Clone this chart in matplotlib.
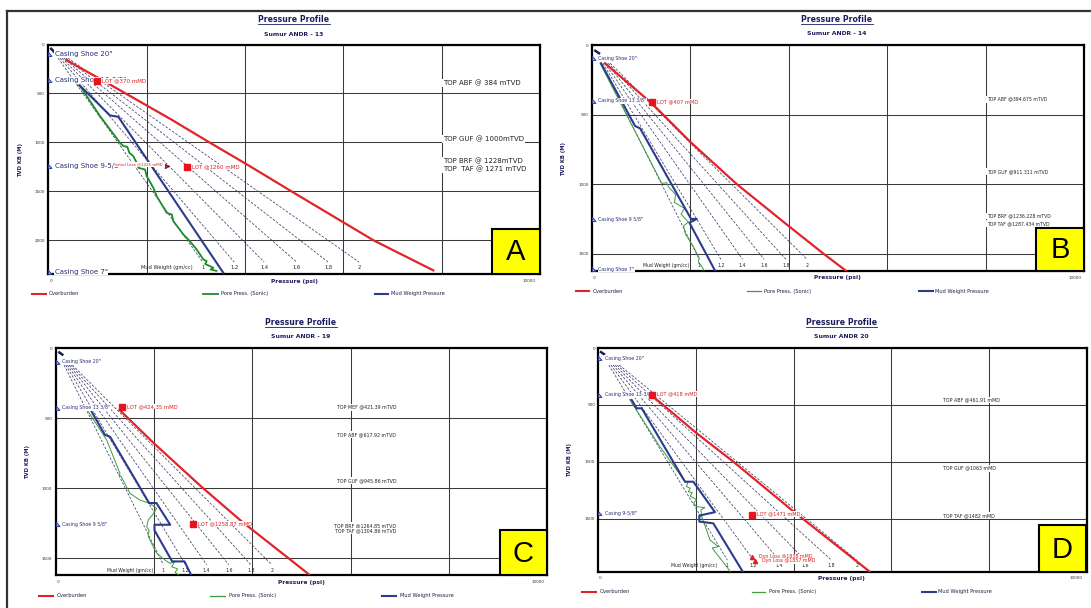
import matplotlib
matplotlib.use("Agg")
import matplotlib.pyplot as plt
from matplotlib.patches import Rectangle
from matplotlib.lines import Line2D

plt.rcParams['font.family'] = ['DejaVu Sans']

# ---------------- shared ----------------
mw_labels = ['1', '1.2', '1.4', '1.6', '1.8', '2']
grid_psi = [2000, 4000, 6000, 8000]
legend_names = ['Overburden', 'Pore Press. (Sonic)', 'Mud Weight Pressure']

# ---------------- Panel A : Sumur ANDR - 13 ----------------
a_ob_psi = [370, 1190, 2500, 3280, 4100, 4950, 6620, 7830]
a_ob_depth = [160, 390, 765, 1000, 1242, 1500, 2000, 2305]
a_pp_psi = [600, 640, 1052, 1459, 1526, 1607, 1648, 1729, 1790, 1831, 1967, 2002, 2137,
            2205, 2409, 2511, 2543, 2747, 2848, 3019, 3154, 3222, 3190, 3290, 3357, 3300, 3420]
a_pp_depth = [418, 418, 731, 1003, 1037, 1044, 1105, 1139, 1200, 1258, 1276, 1344, 1463,
              1548, 1718, 1735, 1803, 1939, 1990, 2092, 2194, 2211, 2240, 2262, 2279, 2296, 2310]
a_mw_psi = [640, 1255, 1424, 3560]
a_mw_depth = [418, 724, 738, 2330]
a_dash_start_psi = [200, 240, 280, 320, 360, 400]
a_dash_end_psi = [3140, 3780, 4390, 5050, 5690, 6320]
a_dash_depth = [140, 2220]
a_casing_depth = [92, 364, 1242, 2320]
a_casing_labels = ['Casing Shoe 20"', 'Casing Shoe 13-3/8"', 'Casing Shoe 9-5/8"', 'Casing Shoe 7"']
a_lot_psi = [985, 2815]
a_lot_depth = [374, 1252]
a_lot_labels = ['LOT @370 mMD', 'LOT @1260 mMD']
a_loss_psi = [2409]
a_loss_depth = [1235]
a_loss_labels = ['Partial Loss @1225 mMD']
a_tops_labels = ['TOP ABF @ 384 mTVD', 'TOP GUF @ 1000mTVD', 'TOP BRF @ 1228mTVD', 'TOP  TAF @ 1271 mTVD']
a_tops_depth = [384, 1000, 1228, 1271]
a_top_seg_psi = [40, 140]
a_top_seg_depth = [35, 85]

# ---------------- Panel B : Sumur ANDR - 14 ----------------
b_ob_psi = [264, 1215, 1994, 2944, 3927, 4706, 5160]
b_ob_depth = [130, 418, 694, 1000, 1281, 1500, 1622]
b_pp_psi = [163, 1418, 1519, 1553, 1700, 1675, 1880, 1810, 1960, 1860, 1900, 2062, 2130,
            2180, 2160, 2230, 2280]
b_pp_depth = [130, 994, 989, 1018, 1075, 1130, 1174, 1215, 1272, 1300, 1360, 1450, 1497,
              1530, 1560, 1590, 1622]
b_mw_psi = [183, 875, 977, 2014, 2130, 1980, 2502]
b_mw_depth = [130, 581, 598, 1250, 1250, 1277, 1622]
b_dash_start_psi = [185, 222, 259, 296, 333, 370]
b_dash_end_psi = [2180, 2620, 3060, 3500, 3940, 4370]
b_dash_depth = [130, 1540]
b_casing_depth = [94, 401, 1253, 1612]
b_casing_labels = ['Casing Shoe 20"', 'Casing Shoe 13 3/8"', 'Casing Shoe 9 5/8"', 'Casing Shoe 7"']
b_lot_psi = [1215]
b_lot_depth = [411]
b_lot_labels = ['LOT @407 mMD']
b_tops_labels = ['TOP ABF @394.675 mTVD', 'TOP GUF @911.311 mTVD',
                 'TOP BRF @1236.228 mTVD', 'TOP TAF @1287.434 mTVD']
b_tops_depth = [394.675, 911.311, 1236.228, 1287.434]
b_top_seg_psi = [47, 163]
b_top_seg_depth = [35, 63]

# ---------------- Panel C : Sumur ANDR - 19 ----------------
c_ob_psi = [1300, 2000, 2970, 3790, 4740, 5150]
c_ob_depth = [440, 679, 990, 1238, 1500, 1614]
c_pp_psi = [664, 1037, 1308, 1290, 1330, 1512, 1715, 1918, 2055, 1990, 1884, 1851, 1900,
            1880, 1960, 2055, 2224, 2326, 2427, 2360, 2480, 2430, 2500]
c_pp_depth = [453, 655, 893, 905, 915, 1036, 1084, 1108, 1143, 1180, 1226, 1274, 1300,
              1340, 1400, 1464, 1512, 1536, 1520, 1560, 1575, 1600, 1618]
c_mw_psi = [732, 1003, 1105, 1900, 2050, 2330, 2010, 2010, 2370, 2620, 2760]
c_mw_depth = [453, 619, 631, 1105, 1105, 1260, 1260, 1300, 1522, 1522, 1621]
c_dash_start_psi = [171, 205, 239, 273, 307, 341]
c_dash_end_psi = [2190, 2640, 3070, 3520, 3970, 4395]
c_dash_depth = [120, 1545]
c_casing_depth = [96, 424, 1257]
c_casing_labels = ['Casing Shoe 20"', 'Casing Shoe 13 3/8"', 'Casing Shoe 9 5/8"']
c_lot_psi = [1343, 2787]
c_lot_depth = [421, 1257]
c_lot_labels = ['LOT @424.35 mMD', 'LOT @1258.87 mMD']
c_tops_labels = ['TOP MEF @421.39 mTVD', 'TOP ABF @617.92 mTVD', 'TOP GUF @945.86 mTVD',
                 'TOP BRF @1264.85 mTVD', 'TOP TAF @1304.86 mTVD']
c_tops_depth = [421.39, 617.92, 945.86, 1264.85, 1304.86]
c_top_seg_psi = [53, 155]
c_top_seg_depth = [24, 50]

# ---------------- Panel D : Sumur ANDR 20 ----------------
d_ob_psi = [1123, 1998, 2762, 3959, 5551]
d_ob_depth = [427, 743, 997, 1421, 1960]
d_pp_psi = [646, 1260, 1773, 1830, 1800, 1880, 1840, 1920, 1880, 2010, 1950, 2012, 2182,
            2100, 2110, 2285, 2455, 2330, 2627, 2700]
d_pp_depth = [456, 866, 1173, 1185, 1215, 1230, 1260, 1270, 1300, 1330, 1360, 1392, 1400,
              1420, 1470, 1684, 1743, 1755, 1918, 1962]
d_mw_psi = [680, 783, 885, 1773, 1943, 2387, 2066, 2066, 2353, 2960]
d_mw_depth = [456, 529, 529, 1173, 1173, 1440, 1470, 1523, 1538, 1965]
d_dash_start_psi = [213, 256, 299, 341, 384, 427]
d_dash_end_psi = [2640, 3175, 3700, 4230, 4770, 5290]
d_dash_depth = [150, 1860]
d_casing_depth = [90, 412, 1450]
d_casing_labels = ['Casing Shoe 20"', 'Casing Shoe 13-3/8"', 'Casing 9-5/8"']
d_lot_psi = [1090, 3152]
d_lot_depth = [412, 1465]
d_lot_labels = ['LOT @418 mMD', 'LOT @1471 mMD']
d_loss_psi = [3139, 3207]
d_loss_depth = [1831, 1868]
d_loss_labels = ['Dyn Loss @1838 mMD', 'Dyn Loss @1857 mMD']
d_tops_labels = ['TOP ABF @461.91 mMD', 'TOP GUF @1063 mMD', 'TOP TAF @1482 mMD']
d_tops_depth = [461.91, 1063, 1482]
d_top_seg_psi = [31, 133]
d_top_seg_depth = [30, 60]

# ---------------- styling ----------------
W, H, DPI = 1091, 608, 100
RED = '#e3232a'
BLUE = '#2c3b8e'
NAVY = '#1d1d5e'
DASH = '#3b3d66'
GRID = '#3a3a3a'

panels = [
    dict(letter='A', sub='Sumur ANDR - 13', box=(48.3, 44.5, 540, 274.3), ymax=2345,
         yticks=[0, 500, 1000, 1500, 2000],
         ob=(a_ob_psi, a_ob_depth), pp=(a_pp_psi, a_pp_depth), mw=(a_mw_psi, a_mw_depth),
         dash=(a_dash_start_psi, a_dash_end_psi, a_dash_depth),
         casing=(a_casing_depth, a_casing_labels), lot=(a_lot_psi, a_lot_depth, a_lot_labels),
         loss=(a_loss_psi, a_loss_depth, a_loss_labels, 'left'),
         tops=(a_tops_labels, [390, 962, 1185, 1271], 8000, 'left'),
         seg=(a_top_seg_psi, a_top_seg_depth),
         fs=dict(casing=5.0, lot=4.0, tops=5.0, mw=3.7), pp_lw=1.3, pp_col='#1e8a2c',
         cx=294, ty=19.5, sy=34.5, xl_y=281, x0=51, x1=529, leg_y=293.5,
         leg=[(31.6, 45.6, 49), (203, 217.5, 221), (374.6, 387.6, 391)], yl=(21, 160),
         ybox=(492, 228.7, 540, 274.3)),
    dict(letter='B', sub='Sumur ANDR - 14', box=(592, 45.2, 1084, 270.7), ymax=1622,
         yticks=[0, 500, 1000, 1500],
         ob=(b_ob_psi, b_ob_depth), pp=(b_pp_psi, b_pp_depth), mw=(b_mw_psi, b_mw_depth),
         dash=(b_dash_start_psi, b_dash_end_psi, b_dash_depth),
         casing=(b_casing_depth, b_casing_labels), lot=(b_lot_psi, b_lot_depth, b_lot_labels),
         loss=None,
         tops=(b_tops_labels, [389, 910, 1229, 1284], 8000, 'left'),
         seg=(b_top_seg_psi, b_top_seg_depth),
         fs=dict(casing=3.4, lot=3.7, tops=3.3, mw=3.3), pp_lw=0.7, pp_col='#3b9c3b',
         cx=837, ty=19.3, sy=33.7, xl_y=277.7, x0=594, x1=1074.6, leg_y=291,
         leg=[(576, 589, 593), (747, 761, 764), (918.5, 932.6, 935.4)], yl=(564, 159),
         ybox=(1036, 227.7, 1084, 270.7)),
    dict(letter='C', sub='Sumur ANDR - 19', box=(55.7, 348.3, 547.2, 575.3), ymax=1621,
         yticks=[0, 500, 1000, 1500],
         ob=(c_ob_psi, c_ob_depth), pp=(c_pp_psi, c_pp_depth), mw=(c_mw_psi, c_mw_depth),
         dash=(c_dash_start_psi, c_dash_end_psi, c_dash_depth),
         casing=(c_casing_depth, c_casing_labels), lot=(c_lot_psi, c_lot_depth, c_lot_labels),
         loss=None,
         tops=(c_tops_labels, c_tops_depth, 6930, 'right'),
         seg=(c_top_seg_psi, c_top_seg_depth),
         fs=dict(casing=3.4, lot=3.8, tops=3.4, mw=3.3), pp_lw=0.7, pp_col='#3b9c3b',
         cx=301, ty=322.3, sy=336.7, xl_y=582.3, x0=57.9, x1=537.7, leg_y=595.7,
         leg=[(39.3, 52.6, 56.8), (210.4, 224.5, 228.7), (382, 395.6, 400)], yl=(28, 461.7),
         ybox=(499.8, 530, 547.2, 575.3)),
    dict(letter='D', sub='Sumur ANDR 20', box=(598.5, 348, 1086.5, 572), ymax=1965,
         yticks=[0, 500, 1000, 1500],
         ob=(d_ob_psi, d_ob_depth), pp=(d_pp_psi, d_pp_depth), mw=(d_mw_psi, d_mw_depth),
         dash=(d_dash_start_psi, d_dash_end_psi, d_dash_depth),
         casing=(d_casing_depth, d_casing_labels), lot=(d_lot_psi, d_lot_depth, d_lot_labels),
         loss=(d_loss_psi, d_loss_depth, d_loss_labels, 'right'),
         tops=(d_tops_labels, [456, 1055, 1471], 7020, 'left'),
         seg=(d_top_seg_psi, d_top_seg_depth),
         fs=dict(casing=3.4, lot=3.6, tops=3.4, mw=3.3), pp_lw=0.7, pp_col='#3b9c3b',
         cx=841.4, ty=322.3, sy=336.7, xl_y=578.3, x0=600.4, x1=1076.4, leg_y=591.7,
         leg=[(581.8, 595.9, 599.4), (752, 765, 768.8), (922, 936, 938.5)], yl=(569.6, 460),
         ybox=(1038.9, 525, 1085.5, 572)),
]

shoe_marker = [(0, 0.5), (0, -0.5), (0.9, -0.5), (0, 0.5)]

fig = plt.figure(figsize=(W / DPI, H / DPI), dpi=DPI)


def fxy(x, y):
    return x / W, 1 - y / H


titles = []
for p in panels:
    l, t, r, b = p['box']
    ax = fig.add_axes([l / W, 1 - b / H, (r - l) / W, (b - t) / H])
    ax.set_xlim(0, 10000)
    ax.set_ylim(p['ymax'], 0)
    ax.set_xticks(grid_psi)
    ax.set_xticklabels([])
    ax.set_yticks(p['yticks'])
    ax.set_yticklabels([str(v) for v in p['yticks']])
    ax.tick_params(length=0, pad=2.5, labelsize=3.0, colors='#333333')
    ax.set_axisbelow(True)
    ax.grid(True, color=GRID, lw=0.75)
    for s in ax.spines.values():
        s.set_linewidth(1.6)
        s.set_color('black')
        s.set_zorder(2.6)

    # mud weight gradient lines
    ds, de, dd = p['dash']
    for s0, e0, lab in zip(ds, de, mw_labels):
        ax.plot([s0, e0], dd, color=DASH, lw=0.55, ls=(0, (3.2, 2.0)), zorder=2)
        ax.annotate(lab, (e0, dd[1]), xytext=(0, -4.2), textcoords='offset points',
                    ha='center', va='center', fontsize=p['fs']['mw'], color='#222222', zorder=5)
    ax.annotate('Mud Weight (gm/cc)', (de[0], dd[1]), xytext=(-7, -4.2), textcoords='offset points',
                ha='right', va='center', fontsize=p['fs']['mw'], color='#222222', zorder=5)

    # curves
    ax.plot(*p['pp'], color=p['pp_col'], lw=p['pp_lw'], zorder=3)
    ax.plot(*p['mw'], color=BLUE, lw=1.5, zorder=3.2)
    ax.plot(*p['ob'], color=RED, lw=1.6, zorder=3.1)
    ax.plot(*p['seg'], color=NAVY, lw=1.8, zorder=3.3, solid_capstyle='butt')

    # casing shoes
    cd, cl = p['casing']
    for dep, lab in zip(cd, cl):
        ax.plot([0], [dep], marker=shoe_marker, ms=5, mfc='#a9bce6', mec=BLUE, mew=0.7,
                clip_on=False, zorder=6)
        ax.annotate(lab, (0, dep), xytext=(4.5, 0), textcoords='offset points', ha='left',
                    va='center', fontsize=p['fs']['casing'], color='#2a2f7a', zorder=5,
                    annotation_clip=False,
                    bbox=dict(fc='white', ec='none', pad=0.3))

    # LOT points
    lp, ld, ll = p['lot']
    for x, y, lab in zip(lp, ld, ll):
        ax.plot([x], [y], marker='s', ms=5, color='#e8141c', zorder=7)
        ax.annotate(lab, (x, y), xytext=(3.5, 0.6), textcoords='offset points', ha='left',
                    va='center', fontsize=p['fs']['lot'], color='#d42020', zorder=6,
                    bbox=dict(fc='white', ec='none', pad=0.2))

    # losses
    if p['loss'] is not None:
        sp, sd, sl, side = p['loss']
        for x, y, lab in zip(sp, sd, sl):
            if side == 'left':
                ax.plot([x], [y], marker='>', ms=3.2, mfc='#d42020', mec=NAVY, mew=0.5, zorder=7)
                ax.annotate(lab, (x, y), xytext=(-3, 0.8), textcoords='offset points', ha='right',
                            va='center', fontsize=2.9, color='#d42020', zorder=6,
                            bbox=dict(fc='white', ec='none', pad=0.2))
            else:
                ax.plot([x], [y], marker='^', ms=3.0, color='#e01c24', zorder=7)
                ax.annotate(lab, (x, y), xytext=(5, 0), textcoords='offset points', ha='left',
                            va='center', fontsize=3.4, color='#d42020', zorder=6,
                            bbox=dict(fc='white', ec='none', pad=0.2))

    # formation tops
    tl, tdp, tx, ha = p['tops']
    off = 1.2 if ha == 'left' else 0
    for lab, y in zip(tl, tdp):
        ax.annotate(lab, (tx, y), xytext=(off, 0), textcoords='offset points', ha=ha, va='center',
                    fontsize=p['fs']['tops'], color='#222222', zorder=5,
                    bbox=dict(fc='white', ec='none', pad=0.6))

    # figure-level texts
    t1 = fig.text(*fxy(p['cx'], p['ty']), 'Pressure Profile', ha='center', va='center',
                  fontsize=5.6, fontweight='bold', color=NAVY)
    titles.append(t1)
    fig.text(*fxy(p['cx'], p['sy']), p['sub'], ha='center', va='center',
             fontsize=4.4, fontweight='bold', color=NAVY)
    fig.text(*fxy(p['cx'], p['xl_y']), 'Pressure (psi)', ha='center', va='center',
             fontsize=4.2, fontweight='bold', color=NAVY)
    fig.text(*fxy(p['x0'], p['xl_y']), '0', ha='center', va='center', fontsize=3.0, color='#333333')
    fig.text(*fxy(p['x1'], p['xl_y']), '10000', ha='center', va='center', fontsize=3.0, color='#333333')
    fig.text(*fxy(*p['yl']), 'TVD KB (M)', ha='center', va='center', rotation=90,
             fontsize=3.8, fontweight='bold', color=NAVY)

    # legend
    for (xa, xb, xt), name, col in zip(p['leg'], legend_names, [RED, p['pp_col'], BLUE]):
        fig.add_artist(Line2D([xa / W, xb / W], [1 - p['leg_y'] / H] * 2, color=col,
                              lw=1.5 if name != 'Pore Press. (Sonic)' else max(p['pp_lw'], 0.9),
                              transform=fig.transFigure))
        fig.text(*fxy(xt, p['leg_y']), name, ha='left', va='center', fontsize=3.7, color='#222244')

    # yellow letter box
    xa, ya, xb, yb = p['ybox']
    fig.add_artist(Rectangle((xa / W, 1 - yb / H), (xb - xa) / W, (yb - ya) / H,
                             transform=fig.transFigure, fc='#ffff00', ec='black', lw=1.5, zorder=10))
    fig.text(*fxy((xa + xb) / 2, (ya + yb) / 2 + 1), p['letter'], ha='center', va='center',
             fontsize=21, family='Liberation Sans', color='black', zorder=11)

# outer frame
fig.add_artist(Line2D([7 / W, 1.0], [1 - 11 / H] * 2, color='#333333', lw=1.6,
                      transform=fig.transFigure))
fig.add_artist(Line2D([7 / W, 7 / W], [1 - 11 / H, 0], color='#333333', lw=1.6,
                      transform=fig.transFigure))

# underline titles
fig.canvas.draw()
for t in titles:
    bb = t.get_window_extent()
    fig.add_artist(Line2D([bb.x0 / W, bb.x1 / W], [(bb.y0 - 0.3) / H] * 2, color=NAVY, lw=0.6,
                          transform=fig.transFigure))

fig.savefig('out.png', dpi=DPI)
